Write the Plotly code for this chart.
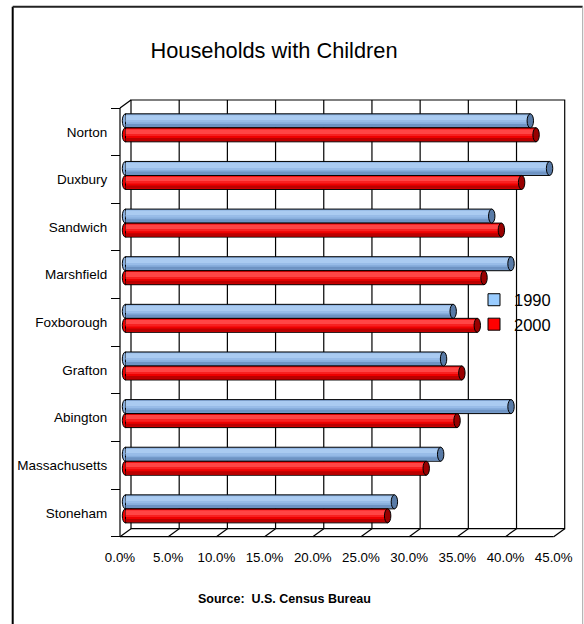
import plotly.graph_objects as go

# ---- data -------------------------------------------------------------
categories = ["Norton", "Duxbury", "Sandwich", "Marshfield", "Foxborough",
              "Grafton", "Abington", "Massachusetts", "Stoneham"]
pct_1990 = [42.0, 44.0, 38.0, 40.0, 34.0, 33.0, 40.0, 32.7, 27.9]
pct_2000 = [42.6, 41.1, 39.0, 37.2, 36.5, 34.9, 34.4, 31.2, 27.2]
series_names = ["1990", "2000"]
x_ticks = [0, 5, 10, 15, 20, 25, 30, 35, 40, 45]
x_tick_labels = [f"{t:.1f}%" for t in x_ticks]

# ---- canvas / pseudo-3D box geometry (pixels) -------------------------
W, H = 584, 624
X0_PX = 120.0            # front-left corner of the floor (0 %)
PX_PER_PCT = 9.638
TOP_PX = 108.0           # front top edge of the category axis
CAT_PX = 47.63           # height of one category slot
DEPTH_X_PX, DEPTH_Y_PX = 11.0, 8.0
PAD = 4.0
FONT = "Liberation Sans, Arial, sans-serif"

n = len(categories)
pos = list(range(n))
XMAX = x_ticks[-1]
DX = DEPTH_X_PX / PX_PER_PCT          # depth offset in % units
DY = DEPTH_Y_PX / CAT_PX              # depth offset in category units
BAR_W = 14.0 / CAT_PX
Y_FRONT = n - 0.5
Y_TOP = -0.5

x_lo_px = X0_PX - PAD
x_hi_px = X0_PX + (XMAX + DX) * PX_PER_PCT + PAD
y_floor_px = TOP_PX + n * CAT_PX
y_lo_px = y_floor_px + PAD
y_hi_px = TOP_PX - DEPTH_Y_PX - PAD

fig = go.Figure()
shapes = []

BLACK = dict(color="black", width=1.2)

# back wall, floor and left wall of the box
shapes.append(dict(type="rect", xref="x", yref="y", layer="below",
                   x0=DX, x1=XMAX + DX, y0=Y_FRONT - DY, y1=Y_TOP - DY,
                   line=BLACK, fillcolor="rgba(0,0,0,0)"))
for t in x_ticks[1:-1]:
    shapes.append(dict(type="line", xref="x", yref="y", layer="below",
                       x0=t + DX, x1=t + DX, y0=Y_FRONT - DY, y1=Y_TOP - DY,
                       line=BLACK))
for t in x_ticks:
    shapes.append(dict(type="line", xref="x", yref="y", layer="below",
                       x0=t, x1=t + DX, y0=Y_FRONT, y1=Y_FRONT - DY,
                       line=BLACK))
shapes.append(dict(type="line", xref="x", yref="y", layer="below",
                   x0=0, x1=XMAX, y0=Y_FRONT, y1=Y_FRONT, line=BLACK))
shapes.append(dict(type="line", xref="x", yref="y", layer="below",
                   x0=0, x1=0, y0=Y_FRONT, y1=Y_TOP, line=BLACK))
shapes.append(dict(type="line", xref="x", yref="y", layer="below",
                   x0=0, x1=DX, y0=Y_TOP, y1=Y_TOP - DY, line=BLACK))

# white backing behind the legend (hides the grid line there)
def xdom(px):
    return (px - x_lo_px) / (x_hi_px - x_lo_px)

def ydom(px):
    return (y_lo_px - px) / (y_lo_px - y_hi_px)

shapes.append(dict(type="rect", xref="x domain", yref="y domain", layer="below",
                   x0=xdom(492), x1=xdom(556), y0=ydom(340), y1=ydom(285),
                   line=dict(width=0), fillcolor="white"))

# ---- cylinder bars ----------------------------------------------------
styles = [
    dict(values=pct_1990, name=series_names[0], offset=-DY / 2 - BAR_W,
         base="#88aedd", legend="#99ccff", cap="#587aa6",
         bands=[(0.10, 0.48, "#aacbf1"), (0.48, 0.60, "#98bce8"),
                (0.72, 0.94, "#6e93c3")]),
    dict(values=pct_2000, name=series_names[1], offset=-DY / 2,
         base="#ee0000", legend="#ff0000", cap="#990000",
         bands=[(0.10, 0.45, "#ff4545"), (0.45, 0.58, "#f82020"),
                (0.72, 0.94, "#bb0000")]),
]

CAP_HALF = 3.2  # half width of the end ellipse, px
for st in styles:
    fig.add_trace(go.Bar(
        y=pos, x=st["values"], base=DX / 2, orientation="h",
        width=BAR_W, offset=st["offset"], name=st["name"],
        marker=dict(color=st["base"], line=dict(color="black", width=1)),
        hoverinfo="skip", showlegend=False))
    for f0, f1, col in st["bands"]:
        fig.add_trace(go.Bar(
            y=pos, x=st["values"], base=DX / 2, orientation="h",
            width=BAR_W * (f1 - f0), offset=st["offset"] + BAR_W * f0,
            marker=dict(color=col, line=dict(width=0)),
            hoverinfo="skip", showlegend=False))
    for i, v in zip(pos, st["values"]):
        y0 = i + st["offset"]
        y1 = y0 + BAR_W
        # rounded start of the cylinder (under the bar)
        shapes.append(dict(type="circle", xref="x", yref="y", layer="below",
                           xsizemode="pixel", xanchor=DX / 2,
                           x0=-CAP_HALF, x1=CAP_HALF, y0=y0, y1=y1,
                           fillcolor=st["base"],
                           line=dict(color="black", width=1)))
        # end cap
        shapes.append(dict(type="circle", xref="x", yref="y", layer="above",
                           xsizemode="pixel", xanchor=DX / 2 + v,
                           x0=-CAP_HALF, x1=CAP_HALF, y0=y0, y1=y1,
                           fillcolor=st["cap"],
                           line=dict(color="black", width=1)))

# legend entries
for st in styles:
    fig.add_trace(go.Bar(
        y=[None], x=[None], orientation="h", name=st["name"],
        marker=dict(color=st["legend"], line=dict(color="black", width=1)),
        hoverinfo="skip", showlegend=True))

# ---- outer chart border -------------------------------------------------
bx0, bx1, by_top = 12.7 / W, 582.7 / W, 1 - 6.7 / H
shapes += [
    dict(type="line", xref="paper", yref="paper", x0=bx0, x1=bx0, y0=-0.01,
         y1=by_top, line=dict(color="black", width=2)),
    dict(type="line", xref="paper", yref="paper", x0=bx0, x1=bx1, y0=by_top,
         y1=by_top, line=dict(color="#222222", width=2)),
    dict(type="line", xref="paper", yref="paper", x0=bx1, x1=bx1, y0=-0.01,
         y1=by_top, line=dict(color="#a6a6a6", width=1)),
]

fig.update_layout(
    width=W, height=H,
    margin=dict(l=0, r=0, t=0, b=0, pad=0, autoexpand=False),
    paper_bgcolor="white", plot_bgcolor="white",
    barmode="overlay",
    font=dict(family=FONT, color="black"),
    title=dict(text="Households with Children", x=274 / W, xanchor="center",
               xref="paper", y=1 - 50 / H, yref="container", yanchor="middle",
               font=dict(size=21.8, family=FONT, color="black")),
    xaxis=dict(
        domain=[x_lo_px / W, x_hi_px / W],
        range=[-PAD / PX_PER_PCT, XMAX + DX + PAD / PX_PER_PCT],
        anchor="free", position=(H - y_floor_px) / H, automargin=False,
        showgrid=False, zeroline=False, showline=False,
        tickmode="array", tickvals=x_ticks, ticktext=x_tick_labels,
        ticks="outside", ticklen=8, tickcolor="rgba(0,0,0,0)",
        tickfont=dict(size=13.3, family=FONT, color="black"),
    ),
    yaxis=dict(
        domain=[(H - y_lo_px) / H, (H - y_hi_px) / H],
        range=[Y_FRONT + PAD / CAT_PX, Y_TOP - DY - PAD / CAT_PX],
        anchor="free", position=X0_PX / W, automargin=False,
        showgrid=False, zeroline=False, showline=False,
        tickmode="array", tickvals=pos, ticktext=categories,
        ticks="outside", ticklen=10, tickcolor="rgba(0,0,0,0)",
        tickfont=dict(size=13.5, family=FONT, color="black"),
        minor=dict(tickmode="array",
                   tickvals=[p - 0.5 for p in pos] + [Y_FRONT],
                   ticks="outside", ticklen=9, tickcolor="black",
                   tickwidth=1.2, showgrid=False),
    ),
    legend=dict(x=474 / W, xanchor="left", y=0.5, yanchor="middle",
                bgcolor="rgba(0,0,0,0)", borderwidth=0,
                font=dict(size=16.5, family=FONT, color="black"),
                traceorder="normal"),
    shapes=shapes,
    annotations=[dict(text="<b>Source:\u00a0 U.S. Census Bureau</b>",
                      xref="paper", yref="paper", x=284 / W, y=(H - 599) / H,
                      xanchor="center", yanchor="middle", showarrow=False,
                      font=dict(size=12.5, family=FONT, color="black"))],
)

fig.write_html("out.html")
